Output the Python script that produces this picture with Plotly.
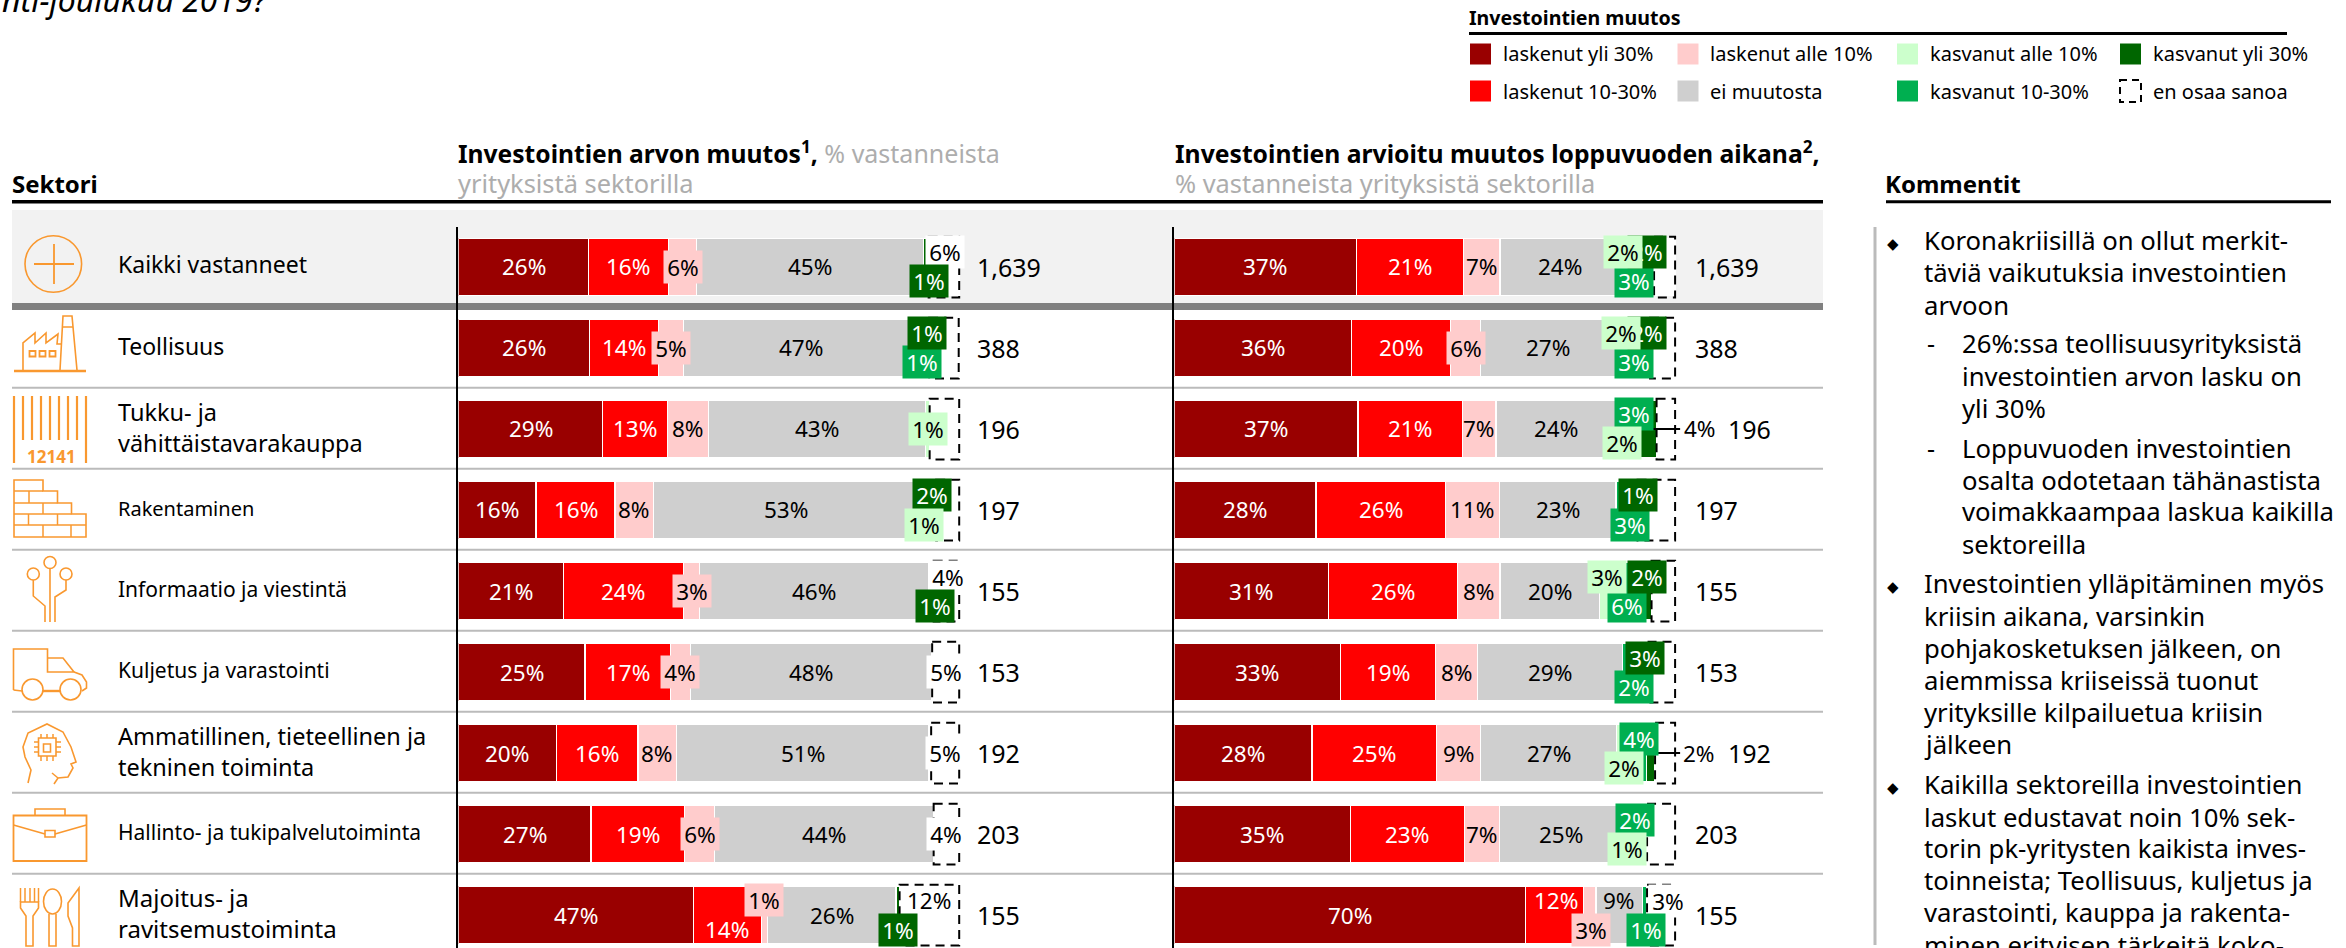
import plotly.graph_objects as go

W, H = 2346, 948
FONT = "Noto Sans"

sectors = ["Kaikki vastanneet", "Teollisuus", "Tukku- ja vähittäistavarakauppa", "Rakentaminen",
           "Informaatio ja viestintä", "Kuljetus ja varastointi",
           "Ammatillinen, tieteellinen ja tekninen toiminta", "Hallinto- ja tukipalvelutoiminta",
           "Majoitus- ja ravitsemustoiminta"]
sector_lines = ["Kaikki vastanneet", "Teollisuus", "Tukku- ja<br>vähittäistavarakauppa", "Rakentaminen",
                "Informaatio ja viestintä", "Kuljetus ja varastointi",
                "Ammatillinen, tieteellinen ja<br>tekninen toiminta", "Hallinto- ja tukipalvelutoiminta",
                "Majoitus- ja<br>ravitsemustoiminta"]
respondents = ["1,639", "388", "196", "197", "155", "153", "192", "203", "155"]
series_names = ["laskenut yli 30%", "laskenut 10-30%", "laskenut alle 10%", "ei muutosta",
                "kasvanut alle 10%", "kasvanut 10-30%", "kasvanut yli 30%", "en osaa sanoa"]

# Investointien arvon muutos (bar widths)
a_lask30 = [26.0, 26.2, 28.8, 15.5, 21.0, 25.3, 19.6, 26.5, 46.9]
a_lask10 = [15.9, 13.7, 12.9, 15.8, 23.9, 17.0, 16.3, 18.7, 13.6]
a_lask0 = [5.7, 5.1, 8.2, 7.7, 3.3, 4.0, 7.7, 5.9, 1.2]
a_ei = [45.3, 47.0, 43.4, 53.0, 45.7, 48.3, 50.4, 43.8, 25.7]
a_kasv0 = [0, 0, 0.8, 1.0, 0, 0, 0, 0, 0]
a_kasv10 = [0, 1.0, 0, 0, 0, 0, 0.4, 0, 0]
a_kasv30 = [1.0, 1.0, 0, 2.4, 1.0, 0, 0, 0, 0.7]
a_eos = [6.1, 5.9, 5.9, 4.6, 5.1, 5.4, 5.6, 5.1, 11.9]

# Investointien arvioitu muutos loppuvuoden aikana
b_lask30 = [36.4, 35.4, 36.7, 28.3, 30.8, 33.2, 27.5, 35.2, 70.1]
b_lask10 = [21.4, 19.8, 20.8, 25.8, 25.7, 18.9, 24.9, 22.7, 11.6]
b_lask0 = [7.2, 5.9, 6.7, 10.8, 8.5, 8.5, 8.8, 7.0, 2.5]
b_ei = [24.0, 27.0, 24.0, 23.3, 19.9, 28.9, 27.1, 24.6, 9.3]
b_kasv0 = [1.9, 2.0, 1.7, 0, 3.0, 0, 2.0, 1.3, 0]
b_kasv10 = [3.0, 3.0, 2.9, 3.0, 5.9, 2.0, 4.0, 2.4, 0.9]
b_kasv30 = [1.9, 1.9, 3.5, 1.3, 1.5, 3.0, 1.7, 1.2, 0]
b_eos = [4.2, 5.0, 3.7, 7.5, 4.7, 5.5, 4.0, 5.6, 5.6]

# Printed labels (None = the picture prints none)
la_lask30 = [26, 26, 29, 16, 21, 25, 20, 27, 47]
la_lask10 = [16, 14, 13, 16, 24, 17, 16, 19, 14]
la_lask0 = [6, 5, 8, 8, 3, 4, 8, 6, 1]
la_ei = [45, 47, 43, 53, 46, 48, 51, 44, 26]
la_kasv0 = [None, None, 1, 1, None, None, None, None, None]
la_kasv10 = [None, 1, None, None, None, None, None, None, None]
la_kasv30 = [1, 1, None, 2, 1, None, None, None, 1]
la_eos = [6, None, None, None, 4, 5, 5, 4, 12]

lb_lask30 = [37, 36, 37, 28, 31, 33, 28, 35, 70]
lb_lask10 = [21, 20, 21, 26, 26, 19, 25, 23, 12]
lb_lask0 = [7, 6, 7, 11, 8, 8, 9, 7, 3]
lb_ei = [24, 27, 24, 23, 20, 29, 27, 25, 9]
lb_kasv0 = [2, 2, 2, None, 3, None, 2, 1, None]
lb_kasv10 = [3, 3, 3, 3, 6, 2, 4, 2, 1]
lb_kasv30 = [2, 2, 4, 1, 2, 3, 2, None, None]
lb_eos = [None, None, None, None, None, None, None, None, 3]

values = [[a_lask30, a_lask10, a_lask0, a_ei, a_kasv0, a_kasv10, a_kasv30, a_eos],
          [b_lask30, b_lask10, b_lask0, b_ei, b_kasv0, b_kasv10, b_kasv30, b_eos]]
labels = [[la_lask30, la_lask10, la_lask0, la_ei, la_kasv0, la_kasv10, la_kasv30, la_eos],
          [lb_lask30, lb_lask10, lb_lask0, lb_ei, lb_kasv0, lb_kasv10, lb_kasv30, lb_eos]]

# ---- styling ----
COLORS = ["#990000", "#FF0000", "#FFCCCC", "#CFCFCF", "#CCFFCC", "#00AF50", "#006600", "#FFFFFF"]
TEXTC = ["white", "white", "black", "black", "black", "white", "white", "black"]
ORANGE = "#F9982F"
UP, DN = -14.5, 14.5
# (panel, series, row): (dx, dy) in px for labels moved off their segment
OFFSET = {
    (0, 7, 0): (1, UP), (0, 6, 0): (3, DN),
    (0, 5, 1): (0, DN), (0, 6, 1): (0, UP),
    (0, 4, 3): (2, DN), (0, 6, 3): (2, UP),
    (0, 6, 4): (4, DN), (0, 7, 4): (2, UP),
    (0, 2, 8): (0, -15.5), (0, 1, 8): (0, DN), (0, 6, 8): (0, DN), (0, 7, 8): (0, UP),
    (1, 4, 0): (-2, UP), (1, 5, 0): (-3, DN), (1, 6, 0): (-2, UP),
    (1, 4, 1): (0, UP), (1, 5, 1): (1, DN), (1, 6, 1): (2, UP),
    (1, 4, 2): (2, DN), (1, 5, 2): (2, UP), (1, 6, 2): (52, 0),
    (1, 5, 3): (6, DN), (1, 6, 3): (4, UP),
    (1, 4, 4): (0, UP), (1, 5, 4): (-2, DN), (1, 6, 4): (-1, UP),
    (1, 5, 5): (6.5, DN), (1, 6, 5): (5, UP),
    (1, 4, 6): (2, DN), (1, 5, 6): (2, UP), (1, 6, 6): (48, 0),
    (1, 4, 7): (1, DN), (1, 5, 7): (0, UP),
    (1, 1, 8): (1.5, UP), (1, 2, 8): (1, DN), (1, 3, 8): (0, UP), (1, 5, 8): (1.5, DN), (1, 7, 8): (7, UP),
}
OUTSIDE = {(1, 6, 2): 95.4, (1, 6, 6): 96.4}   # leader lines: start on the x axis
COUNT_X = [(977, 1695), (977, 1728)]
SECTOR_SIZE = [23, 23, 23.5, 20, 21, 21, 23.5, 21, 24]

PANEL_L = [458.4, 1174.3]
PX_PER_PCT = 5.008
XMAX = 104
PAD = 2.5  # annotations sit this far right of their anchor


def px(x):
    return x / W


def py(y):
    return 1 - y / H


fig = go.Figure()
axes = [("x", "y"), ("x2", "y2")]
for p, (xa, ya) in enumerate(axes):
    for s, name in enumerate(series_names):
        fig.add_trace(go.Bar(
            y=sectors, x=values[p][s], name=name, orientation="h", xaxis=xa, yaxis=ya,
            marker=dict(color=COLORS[s], line=dict(color="white", width=1.4)),
            width=0.71, showlegend=False, hoverinfo="x+y+name"))

shapes, annos = [], []


def text(x, y, t, size=22, color="black", anchor="left", **kw):
    annos.append(dict(xref="paper", yref="paper", x=px(x - PAD if anchor == "left" else x), y=py(y), text=t,
                      showarrow=False, xanchor=anchor, yanchor="middle", align="left",
                      font=dict(family=FONT, size=size, color=color), **kw))


def line(x0, y0, x1, y1, color="black", width=1.5, layer="above"):
    shapes.append(dict(type="line", xref="paper", yref="paper", x0=px(x0), y0=py(y0), x1=px(x1), y1=py(y1),
                       line=dict(color=color, width=width), layer=layer))


def rect(x0, y0, x1, y1, fill=None, color=None, width=0, layer="above", dash=None):
    ln = dict(color=color or "rgba(0,0,0,0)", width=width)
    if dash:
        ln["dash"] = dash
    shapes.append(dict(type="rect", xref="paper", yref="paper", x0=px(x0), y0=py(y0), x1=px(x1), y1=py(y1),
                       fillcolor=fill or "rgba(0,0,0,0)", line=ln, layer=layer))


def circle(cx, cy, r, color=ORANGE, width=1.6, ry=None):
    ry = ry or r
    shapes.append(dict(type="circle", xref="paper", yref="paper", x0=px(cx - r), y0=py(cy - ry), x1=px(cx + r),
                       y1=py(cy + ry), line=dict(color=color, width=width), fillcolor="rgba(0,0,0,0)"))


def poly(points, color=ORANGE, width=1.6, close=False):
    d = "M" + " L".join(f"{px(x):.5f},{py(y):.5f}" for x, y in points) + (" Z" if close else "")
    shapes.append(dict(type="path", xref="paper", yref="paper", path=d, line=dict(color=color, width=width)))


# ---- table background ----
rect(12, 210, 1823, 304, fill="#F2F2F2", layer="below")
line(12, 201.7, 1823, 201.7, width=3.4)
line(1886, 201.7, 2331, 201.7, width=3)
rect(12, 303, 1823, 310, fill="#808080", layer="below")
for i in range(1, 8):
    sep = 306.7 + 81 * i
    line(12, sep, 1823, sep, color="#BBBBBB", width=2, layer="below")

# ---- dashed "en osaa sanoa" boxes, leader lines, bar labels, counts ----
for p, (xa, ya) in enumerate(axes):
    for r in range(len(sectors)):
        start = sum(values[p][s][r] for s in range(7))
        end = start + values[p][7][r]
        shapes.append(dict(type="rect", xref=xa, yref=ya, x0=start, x1=end, y0=r - 0.375, y1=r + 0.375,
                           line=dict(color="black", width=2, dash="9px,6px"), layer="above"))
    for r in range(len(sectors)):
        # drawn from first to last, so the later labels cover the earlier ones
        for s in [0, 1, 3, 2, 7, 5, 6, 4]:
            lab = labels[p][s][r]
            if lab is None:
                continue
            v = values[p][s][r]
            left = sum(values[p][k][r] for k in range(s))
            dx, dy = OFFSET.get((p, s, r), (0, 0))
            outside = (p, s, r) in OUTSIDE
            boxed = v < 6.5 and not outside
            if outside:
                shapes.append(dict(type="line", xref=xa, yref=ya, x0=OUTSIDE[(p, s, r)], x1=101, y0=r, y1=r,
                                   line=dict(color="black", width=2), layer="above"))
            annos.append(dict(xref=xa, yref=ya, x=left + v / 2, y=sectors[r], xshift=dx, yshift=-dy,
                              text=f"{lab}%", showarrow=False, width=38 if boxed else None,
                              height=32 if boxed else None, align="center", valign="middle",
                              bgcolor=COLORS[s] if boxed else None, borderpad=0,
                              font=dict(family=FONT, size=22.5, color="black" if outside else TEXTC[s])))

for r, n in enumerate(respondents):
    yc = 267 + 81 * r
    out = 1 if r in (2, 6) else 0
    text(COUNT_X[0][0], yc, n, size=25)
    text(COUNT_X[out][1], yc, n, size=25)

# ---- sector names ----
for r, n in enumerate(sector_lines):
    yc = 264 + 81 * r if r == 0 else 267 + 81 * r - 2
    text(118, yc, n, size=SECTOR_SIZE[r])

# ---- headers ----
text(12.5, 183, "<b>Sektori</b>", size=24)
GREY = "#ADADAD"
text(458, 152, f'<b style="font-size:24.6px">Investointien arvon muutos<sup>1</sup>,</b> '
               f'<span style="color:{GREY}">% vastanneista</span>', size=25)
text(458, 183, "yrityksistä sektorilla", size=25.4, color=GREY)
text(1175, 152, "<b>Investointien arvioitu muutos loppuvuoden aikana<sup>2</sup>,</b>", size=24.7)
text(1175, 183, "% vastanneista yrityksistä sektorilla", size=25.4, color=GREY)
text(1886, 183, "<b>Kommentit</b>", size=24)
annos.append(dict(xref="paper", yref="paper", x=px(0), y=py(-1), text="<i>nti-joulukuu 2019?</i>", showarrow=False,
                  xanchor="left", yanchor="middle", font=dict(family=FONT, size=32, color="black")))

# ---- legend ----
text(1469, 18, "<b>Investointien muutos</b>", size=19.6)
line(1469, 33.5, 2287, 33.5, width=3)
LEG = [(0, 1470, 54), (2, 1677.5, 54), (4, 1897, 54), (6, 2120, 54),
       (1, 1470, 91), (3, 1677.5, 91), (5, 1897, 91), (7, 2120, 91)]
for s, x, y in LEG:
    if s == 7:
        rect(x, y - 11, x + 21, y + 11, color="black", width=2, dash="7px,5px")
    else:
        rect(x, y - 10.5, x + 21, y + 10.5, fill=COLORS[s])
    text(x + 33, y, series_names[s], size=20)

# ---- comments ----
rect(1873.5, 227, 1876.5, 945, fill="#BBBBBB")
COMMENT_LINES = [
    (240, 1, "Koronakriisillä on ollut merkit-"), (272, 0, "täviä vaikutuksia investointien"), (305, 0, "arvoon"),
    (343, 2, "26%:ssa teollisuusyrityksistä"), (376, 3, "investointien arvon lasku on"), (408, 3, "yli 30%"),
    (448, 2, "Loppuvuoden investointien"), (480, 3, "osalta odotetaan tähänastista"),
    (512, 3, "voimakkaampaa laskua kaikilla"), (544, 3, "sektoreilla"),
    (583, 1, "Investointien ylläpitäminen myös"), (616, 0, "kriisin aikana, varsinkin"),
    (648, 0, "pohjakosketuksen jälkeen, on"), (680, 0, "aiemmissa kriiseissä tuonut"),
    (712, 0, "yrityksille kilpailuetua kriisin"), (744, 0, "jälkeen"),
    (784, 1, "Kaikilla sektoreilla investointien"), (817, 0, "laskut edustavat noin 10% sek-"),
    (848, 0, "torin pk-yritysten kaikista inves-"), (880, 0, "toinneista; Teollisuus, kuljetus ja"),
    (912, 0, "varastointi, kauppa ja rakenta-"), (945, 0, "minen erityisen tärkeitä koko-"),
]
for y, kind, t in COMMENT_LINES:
    if kind == 1:
        text(1893, y + 3, "◆", size=15, anchor="center")
    if kind == 2:
        text(1927, y, "-", size=25)
    text(1962 if kind >= 2 else 1924, y, t, size=25.7)

# ---- icons (decoration) ----
circle(53.3, 264, 28.3)
line(34, 264, 74, 264, color=ORANGE, width=1.8)
line(54, 244, 54, 284, color=ORANGE, width=1.8)
# factory
line(14, 371, 86, 371, color=ORANGE, width=2.4)
poly([(23, 370), (23, 343), (35, 333), (35, 343), (46, 333), (46, 343), (58, 334), (57, 344), (61, 344)])
poly([(60, 370), (63, 316), (72, 316), (77, 370)])
line(62, 327, 73, 327, color=ORANGE)
for x0 in (29.5, 39.5, 49.5):
    rect(x0, 351, x0 + 6, 356.5, color=ORANGE, width=1.8)
# barcode
for x0 in (14, 86):
    line(x0, 396, x0, 463, color=ORANGE, width=2.2)
for x0 in (23, 32, 41, 50, 59, 68, 77):
    line(x0, 396, x0, 440, color=ORANGE, width=2.2)
text(51, 456, "<b>12141</b>", size=17, color=ORANGE, anchor="center")
# bricks
poly([(14, 537), (14, 480), (43, 480), (43, 491), (57.5, 491), (57.5, 503), (71.5, 503), (71.5, 514), (86, 514),
      (86, 537)], close=True)
for y0, x1 in ((491, 43), (503, 57.5), (514, 71.5), (525, 86)):
    line(14, y0, x1, y0, color=ORANGE)
for x0, y0, y1 in ((29, 491, 503), (43, 503, 514), (28.5, 514, 525), (57.5, 514, 525), (43, 525, 537), (71, 525, 537)):
    line(x0, y0, x0, y1, color=ORANGE)
# circuit
circle(50, 562.5, 6)
circle(33.3, 574, 6)
circle(66, 574, 6)
poly([(50, 569), (50, 622)])
poly([(33.3, 580), (33.3, 596), (45, 606), (45, 622)])
poly([(66, 580), (66, 590), (55, 597), (55, 622)])
# truck
poly([(13.5, 690), (13.5, 649), (47.5, 649), (47.5, 672), (74, 672), (63, 658), (47.5, 658)])
poly([(74, 672), (82, 675), (86.5, 682), (86.5, 688), (82, 691)])
line(13.5, 690, 22, 691, color=ORANGE)
line(43, 691, 60, 691, color=ORANGE, width=2.4)
circle(32.5, 689.5, 10.5)
circle(70.5, 689.5, 10.5)
# head
poly([(28, 783), (31, 770), (25, 757), (23, 747), (28, 733), (47, 724), (63, 732), (71, 747), (76, 762), (71, 764),
      (73, 768), (68, 777), (58, 778), (54, 784)])
line(52, 773, 58, 778, color=ORANGE)
rect(38.5, 738, 56, 756, color=ORANGE, width=1.6)
rect(43.5, 744, 50.5, 752, color=ORANGE, width=1.6)
for k in (41, 47, 53):
    line(k, 734, k, 738, color=ORANGE)
    line(k, 756, k, 761, color=ORANGE)
for k in (742, 747, 752):
    line(34, k, 38.5, k, color=ORANGE)
    line(56, k, 61, k, color=ORANGE)
# briefcase
rect(13.5, 815.5, 86.5, 861, color=ORANGE, width=1.8)
poly([(35, 815.5), (35, 809), (65, 809), (65, 815.5)])
poly([(13.5, 825), (45, 834)])
poly([(55, 834), (86.5, 825)])
rect(45, 830.5, 55, 837, color=ORANGE, width=1.6)
# cutlery
for x0 in (20.5, 25, 30, 34.5, 38.5):
    line(x0, 888, x0, 902, color=ORANGE)
poly([(20.5, 902), (38.5, 902), (38.5, 908), (33, 916), (33, 946), (26, 946), (26, 916), (20.5, 908)], close=True)
circle(52.5, 901.5, 9, ry=12.5)
poly([(49, 914), (49, 946), (56, 946), (56, 914)])
poly([(79, 888), (68, 903), (68, 916), (72.5, 928), (72.5, 946), (79, 946)], close=True)

# ---- layout ----
TOP, BOTTOM = 226.5, H
y_common = dict(type="category", categoryorder="array", categoryarray=sectors,
                range=[(BOTTOM - 267) / 81, (TOP - 267) / 81],
                domain=[0, 1 - TOP / H], showticklabels=False, ticks="", showgrid=False,
                zeroline=False, showline=True, linecolor="black", linewidth=2, fixedrange=True)
x_common = dict(range=[0, XMAX], showticklabels=False, ticks="", showgrid=False, zeroline=False,
                showline=False, fixedrange=True)
span = PX_PER_PCT * XMAX
fig.update_layout(
    width=W, height=H, margin=dict(l=0, r=0, t=0, b=0, pad=0), autosize=False,
    paper_bgcolor="white", plot_bgcolor="rgba(0,0,0,0)", barmode="stack", bargap=0.29, showlegend=False,
    font=dict(family=FONT, color="black"),
    xaxis=dict(domain=[px(PANEL_L[0]), px(PANEL_L[0] + span)], anchor="y", **x_common),
    xaxis2=dict(domain=[px(PANEL_L[1]), px(PANEL_L[1] + span)], anchor="y2", **x_common),
    yaxis=dict(anchor="x", **y_common),
    yaxis2=dict(anchor="x2", **y_common),
    shapes=shapes, annotations=annos,
)

fig.write_html("out.html", config=dict(displayModeBar=False),
               post_script="document.body.style.margin='0';document.body.style.overflow='hidden';")
